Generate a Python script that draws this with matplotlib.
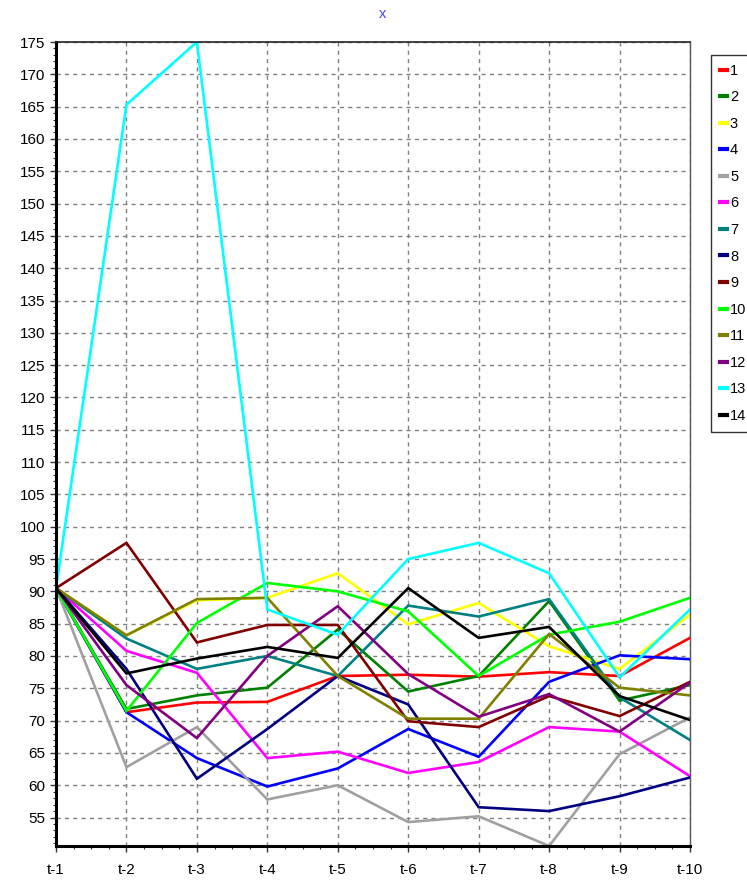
import matplotlib
matplotlib.use("Agg")
import matplotlib.pyplot as plt
from matplotlib.ticker import AutoMinorLocator

plt.rcParams['font.family'] = ['Liberation Sans Narrow', 'Liberation Sans', 'DejaVu Sans']

categories = ["t-1", "t-2", "t-3", "t-4", "t-5", "t-6", "t-7", "t-8", "t-9", "t-10"]
series_names = ["1", "2", "3", "4", "5", "6", "7", "8", "9", "10", "11", "12", "13", "14"]

s1 = [90.5, 71.3, 72.8, 72.9, 76.9, 77.1, 76.8, 77.5, 76.9, 82.8]
s2 = [90.5, 71.8, 73.9, 75.1, 84.1, 74.5, 76.9, 88.5, 73.1, 75.5]
s3 = [90.5, 83.2, 88.6, 89.0, 92.8, 84.9, 88.2, 81.5, 78.0, 86.4]
s4 = [90.5, 71.3, 64.2, 59.8, 62.6, 68.7, 64.4, 76.0, 80.1, 79.5]
s5 = [90.5, 62.8, 69.0, 57.8, 60.0, 54.3, 55.2, 50.6, 64.8, 70.5]
s6 = [90.5, 80.8, 77.4, 64.2, 65.2, 61.9, 63.6, 69.0, 68.3, 61.4]
s7 = [90.5, 82.7, 78.0, 80.0, 76.9, 87.8, 86.1, 88.8, 73.6, 67.0]
s8 = [90.5, 78.0, 61.0, 68.7, 76.9, 72.5, 56.6, 56.0, 58.3, 61.2]
s9 = [90.5, 97.5, 82.1, 84.8, 84.8, 69.9, 69.0, 73.8, 70.7, 76.0]
s10 = [90.5, 71.5, 85.1, 91.3, 90.0, 86.9, 76.9, 83.3, 85.3, 89.0]
s11 = [90.5, 83.2, 88.8, 89.0, 76.9, 70.3, 70.3, 83.4, 75.1, 73.9]
s12 = [90.5, 75.5, 67.3, 80.0, 87.7, 77.2, 70.6, 74.1, 68.3, 75.9]
s13 = [90.5, 165.3, 175.0, 87.2, 83.3, 95.0, 97.5, 92.8, 76.7, 87.2]
s14 = [90.5, 77.3, 79.6, 81.4, 79.7, 90.5, 82.8, 84.5, 73.8, 70.1]

all_series = [s1, s2, s3, s4, s5, s6, s7, s8, s9, s10, s11, s12, s13, s14]
colors = ["#ff0000", "#008000", "#ffff00", "#0000ff", "#a0a0a0", "#ff00ff", "#008080",
          "#000080", "#800000", "#00ff00", "#808000", "#800080", "#00ffff", "#000000"]

fig = plt.figure(figsize=(7.47, 8.82), dpi=100)
ax = fig.add_axes([56/747, 1-846/882, (690-56)/747, (846-42)/882])

x = list(range(len(categories)))
handles = []
for name, vals, c in zip(series_names, all_series, colors):
    h, = ax.plot(x, vals, color=c, lw=1.9, label=name, solid_joinstyle='miter')
    handles.append(h)

ax.set_xlim(0, len(categories) - 1)
ax.set_ylim(50.6, 175)
ax.set_xticks(x)
ax.set_xticklabels(categories)
ax.set_yticks(range(55, 176, 5))
ax.xaxis.set_minor_locator(AutoMinorLocator(4))
ax.yaxis.set_minor_locator(AutoMinorLocator(5))
ax.tick_params(axis='both', which='major', labelsize=11, length=4, width=1, color='#333333')
ax.tick_params(axis='both', which='minor', length=2.5, width=0.8, color='#333333')
ax.tick_params(axis='x', pad=8)

ax.grid(True, which='major', color='#808080', linestyle=(0, (3, 3)), linewidth=1)
ax.set_axisbelow(True)

for side in ['left', 'bottom']:
    ax.spines[side].set_linewidth(2.2)
    ax.spines[side].set_color('black')
ax.spines['top'].set_linewidth(1.2)
ax.spines['top'].set_color('#222222')
ax.spines['right'].set_linewidth(1.0)
ax.spines['right'].set_color('#555555')

fig.text(383/747, 1-14/882, "x", color="#4040ff", fontsize=10.5, ha='center', va='center')

leg = fig.legend(handles=handles, loc='upper left', bbox_to_anchor=(711/747, 1-55/882),
                 frameon=True, fancybox=False, shadow=False, fontsize=10.5,
                 handlelength=0.5, handletextpad=0.2, labelspacing=0.86,
                 borderpad=0.6, borderaxespad=0)
leg.get_frame().set_edgecolor('black')
leg.get_frame().set_linewidth(1.0)
for lh in leg.get_lines():
    lh.set_linewidth(3)

fig.savefig("out.png", dpi=100)
